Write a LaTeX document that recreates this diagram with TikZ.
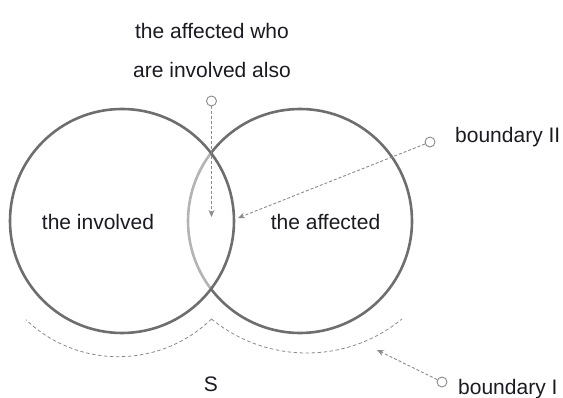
\documentclass[tikz,border=0pt]{standalone}
\usepackage{fontspec}
\setmainfont{Liberation Sans}
\usetikzlibrary{arrows.meta}
\definecolor{circ}{HTML}{6E6E6E}
\definecolor{lens}{HTML}{B4B4B4}
\definecolor{dashc}{HTML}{8A8A8A}
\definecolor{txt}{HTML}{1A1A22}
\begin{document}
\begin{tikzpicture}[x=1pt,y=1pt,
  bigcirc/.style={draw=circ, line width=2.6pt},
  lbl/.style={font=\fontsize{21}{25}\selectfont, text=txt, inner sep=0pt, anchor=base},
  pointer/.style={draw=dashc, line width=0.9pt, dash pattern=on 3pt off 2pt, -{Stealth[length=7pt,width=6pt]}},
  knob/.style={circle, draw=dashc, line width=0.9pt, fill=white, minimum size=10pt, inner sep=0pt},
  bnd/.style={draw=dashc, line width=0.8pt, dash pattern=on 3.5pt off 2.5pt}]
\useasboundingbox (0,0) rectangle (563,398);
\coordinate (cl) at (122,177);
\coordinate (cr) at (300,177);
\draw[bigcirc, draw=lens] (cr) ++(142.6:112) arc[start angle=142.6, end angle=217.4, radius=112];
\draw[bigcirc] (cr) ++(142.6:112) arc[start angle=142.6, end angle=-142.6, radius=112];
\draw[bigcirc] (cl) circle[radius=112];
\coordinate (cusp) at (211.5,79);
\draw[bnd] (cusp) arc[start angle=314.06, end angle=226.4, radius=134];
\draw[bnd] (cusp) arc[start angle=230.7, end angle=309.3, radius=150.4];
\node[lbl] (q1) at (212,359) {the affected who};
\node[lbl] (q2) at (212,320) {are involved also};
\node[lbl] (inv) at (98,168) {the involved};
\node[lbl] (aff) at (325.5,168) {the affected};
\node[lbl] (s) at (211,6) {S};
\node[lbl, anchor=base west] (b2) at (455,255) {boundary II};
\node[lbl, anchor=base west] (b1) at (458,3) {boundary I};
\node[knob] (k1) at (211.5,297) {};
\node[knob] (k2) at (430,256) {};
\node[knob] (k3) at (442,16) {};
\coordinate (t1) at (211.5,181);
\coordinate (t2) at (238,180);
\coordinate (t3) at (377,48);
\draw[pointer] (k1) -- (t1);
\draw[pointer] (k2) -- (t2);
\draw[pointer] (k3) -- (t3);
\end{tikzpicture}
\end{document}
